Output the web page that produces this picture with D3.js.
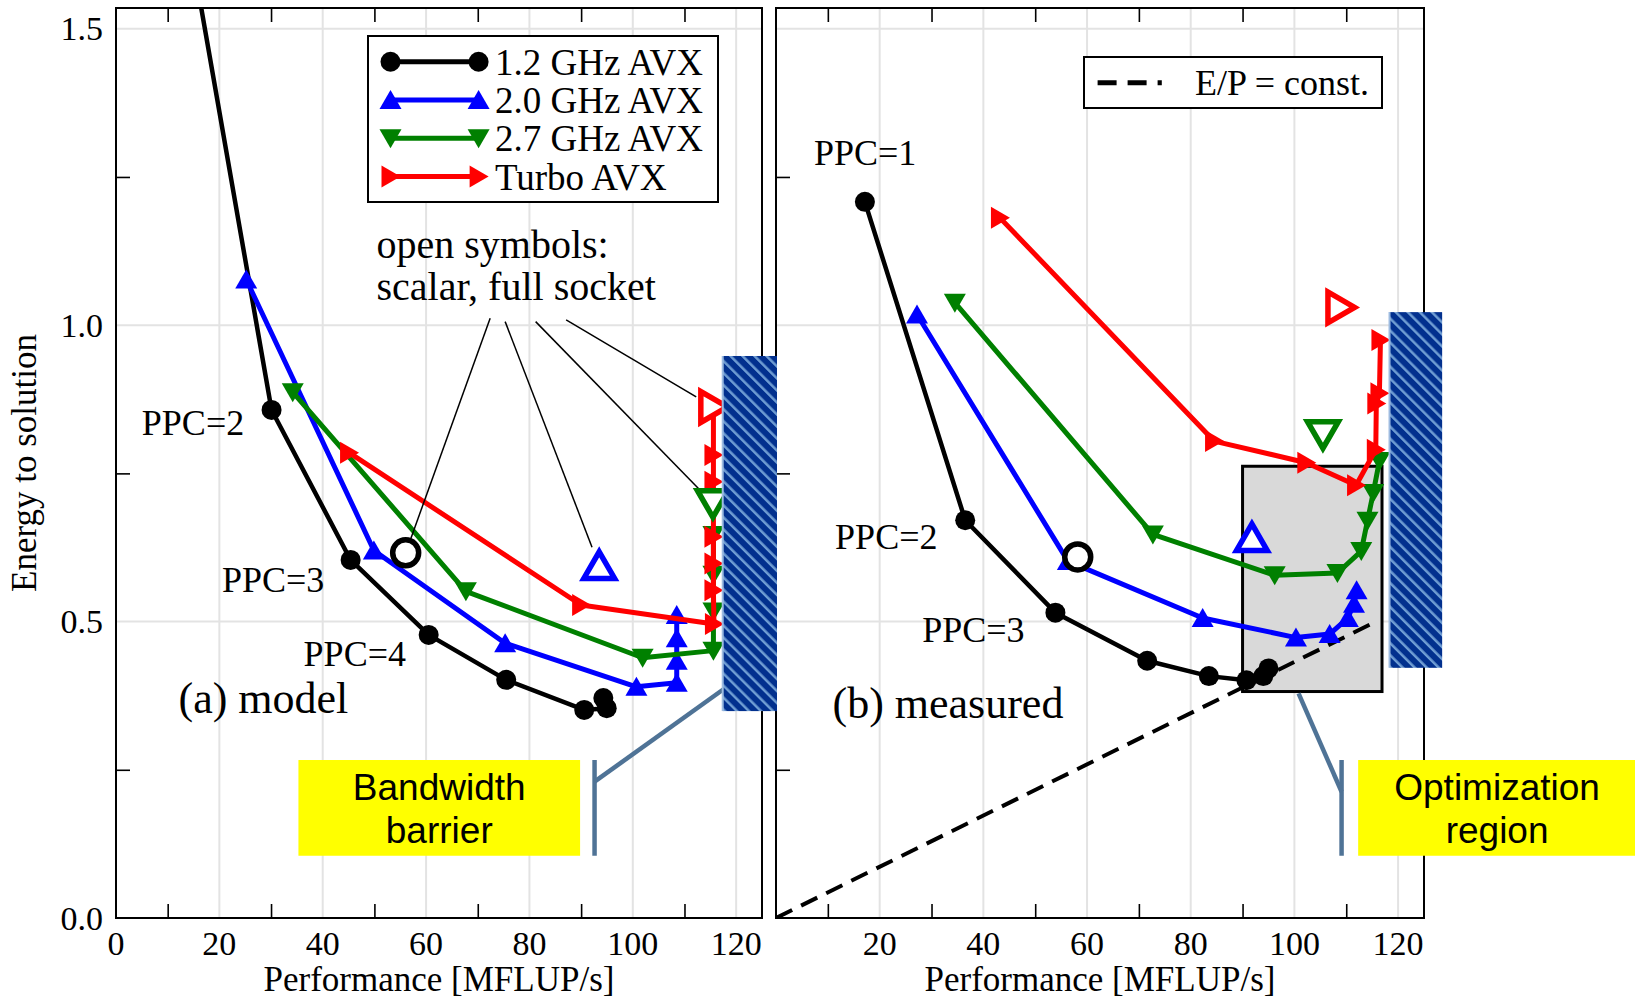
<!DOCTYPE html>
<html>
<head>
<meta charset="utf-8">
<script src="https://cdn.jsdelivr.net/npm/d3@7"></script>
<style>
  body { margin: 0; background: #fff; }
  svg text { font-family: "Liberation Serif", "Times New Roman", serif; fill: #000; }
  svg text.sans { font-family: "Liberation Sans", Arial, sans-serif; }
</style>
</head>
<body>
<svg id="chart" width="1635" height="1001"></svg>
<script>
// ---- data: performance [MFLUP/s] vs energy to solution ----
const seriesNames = ["1.2 GHz AVX", "2.0 GHz AVX", "2.7 GHz AVX", "Turbo AVX"];
const seriesColors = ["#000000", "#0000ff", "#008000", "#ff0000"];
const seriesShapes = ["circle", "up", "down", "right"];

// (a) model
const modelPerf12 = [15.05, 30.1, 45.4, 60.5, 75.5, 90.6, 94.95, 94.3];
const modelEnergy12 = [1.607, 0.857, 0.604, 0.4775, 0.4017, 0.351, 0.354, 0.371];
const modelPerf20 = [25.2, 49.9, 75.3, 100.7, 108.5, 108.5, 108.5, 108.5];
const modelEnergy20 = [1.077, 0.62, 0.4635, 0.39, 0.397, 0.434, 0.472, 0.511];
const modelPerf27 = [34.2, 67.7, 101.9, 115.6, 115.6, 115.6, 115.6];
const modelEnergy27 = [0.887, 0.551, 0.439, 0.451, 0.517, 0.579, 0.646];
const modelPerfTurbo = [45.1, 90.0, 115.7, 115.6, 115.6, 115.6, 115.6, 115.6, 115.6];
const modelEnergyTurbo = [0.785, 0.528, 0.496, 0.553, 0.598, 0.643, 0.736, 0.781, 0.855];
const modelScalarPerf = [56.05, 93.5, 115.5, 115.6];
const modelScalarEnergy = [0.616, 0.594, 0.6995, 0.862];

// (b) measured
const measPerf12 = [17.15, 36.5, 53.9, 71.6, 83.5, 90.75, 94.0, 95.0];
const measEnergy12 = [1.208, 0.671, 0.515, 0.434, 0.408, 0.401, 0.408, 0.421];
const measPerf20 = [27.2, 56.3, 82.3, 100.3, 106.8, 110.3, 111.5, 112.0];
const measEnergy20 = [1.018, 0.602, 0.506, 0.473, 0.479, 0.506, 0.53, 0.553];
const measPerf27 = [34.5, 72.7, 96.2, 108.3, 112.9, 114.1, 115.2, 116.4];
const measEnergy27 = [1.038, 0.647, 0.578, 0.582, 0.619, 0.67, 0.717, 0.771];
const measPerfTurbo = [43.2, 84.5, 102.3, 111.9, 115.7, 115.8, 116.4, 116.6];
const measEnergyTurbo = [1.181, 0.8045, 0.768, 0.73, 0.79, 0.868, 0.885, 0.975];
const measScalarPerf = [58.2, 91.8, 105.5, 108.9];
const measScalarEnergy = [0.609, 0.641, 0.816, 1.03];

const epSlope = 0.00432;       // E/P = const.
const epPerfRange = [0, 116];

const xTicks = [0, 20, 40, 60, 80, 100, 120];
const xMinor = [10, 30, 50, 70, 90, 110];
const yTicks = [0, 0.5, 1.0, 1.5];
const yMinor = [0.25, 0.75, 1.25];

// ---- layout ----
const W = 1635, H = 1001;
const y = d3.scaleLinear().domain([0, 1.535]).range([918, 8]);
const xModel = d3.scaleLinear().domain([0, 125]).range([116, 762]);
const xMeas = d3.scaleLinear().domain([0, 125]).range([776, 1424]);

const svg = d3.select("#chart");
svg.append("rect").attr("width", W).attr("height", H).attr("fill", "#fff");

const defs = svg.append("defs");
const hatch = defs.append("pattern")
    .attr("id", "hatch")
    .attr("patternUnits", "userSpaceOnUse")
    .attr("width", 8.5)
    .attr("height", 8.5)
    .attr("patternTransform", "rotate(-45)");
hatch.append("rect").attr("width", 8.5).attr("height", 8.5).attr("fill", "#02308e");
hatch.append("rect").attr("width", 2.5).attr("height", 8.5).attr("fill", "#6f9dd3");

function marker(sel, shape, s) {
    if (shape === "circle") return sel.append("circle").attr("r", 10 * s);
    const p = {
        up: [[0, -10], [11, 9], [-11, 9]],
        down: [[0, 10], [11, -9], [-11, -9]],
        right: [[10, 0], [-9, -11], [-9, 11]]
    }[shape];
    return sel.append("path")
        .attr("d", "M" + p.map(q => q.map(v => v * s).join(",")).join("L") + "Z");
}

function drawFrame(x, id, labelTicks, withYLabels) {
    const g = svg.append("g");
    const [y0, y1] = y.range();

    defs.append("clipPath").attr("id", id)
        .append("rect")
        .attr("x", x(0)).attr("y", y1)
        .attr("width", x(125) - x(0)).attr("height", y0 - y1);

    // grid
    g.selectAll(".vgrid").data(xTicks.filter(d => d > 0)).join("line")
        .attr("x1", d => x(d)).attr("x2", d => x(d))
        .attr("y1", y0).attr("y2", y1)
        .attr("stroke", "#e3e3e3").attr("stroke-width", 2);
    g.selectAll(".hgrid").data(yTicks.filter(d => d > 0)).join("line")
        .attr("x1", x(0)).attr("x2", x(125))
        .attr("y1", d => y(d)).attr("y2", d => y(d))
        .attr("stroke", "#e3e3e3").attr("stroke-width", 2);

    // tick labels
    g.selectAll(".xl").data(labelTicks).join("text")
        .attr("x", d => x(d)).attr("y", 955)
        .attr("text-anchor", "middle")
        .style("font-size", "34px")
        .text(d => d);
    if (withYLabels) {
        g.selectAll(".yl").data(yTicks).join("text")
            .attr("x", x(0) - 13).attr("y", d => y(d) + 11.5)
            .attr("text-anchor", "end")
            .style("font-size", "34px")
            .text(d => d.toFixed(1));
    }

    g.append("text")
        .attr("x", (x(0) + x(125)) / 2).attr("y", 991)
        .attr("text-anchor", "middle")
        .style("font-size", "35px")
        .text("Performance [MFLUP/s]");
    return g;
}

function drawAxes(x) {
    const g = svg.append("g");
    const [y0, y1] = y.range();
    g.append("g").attr("transform", `translate(0,${y0})`)
        .call(d3.axisBottom(x).tickValues(xMinor).tickSizeInner(-14).tickSizeOuter(0).tickFormat(""));
    g.append("g").attr("transform", `translate(0,${y1})`)
        .call(d3.axisTop(x).tickValues(xMinor).tickSizeInner(-14).tickSizeOuter(0).tickFormat(""));
    g.append("g").attr("transform", `translate(${x(0)},0)`)
        .call(d3.axisLeft(y).tickValues(yMinor).tickSizeInner(-14).tickSizeOuter(0).tickFormat(""));
    g.selectAll(".domain").remove();
    g.selectAll(".tick line").attr("stroke", "#000").attr("stroke-width", 1.6);
    g.append("rect")
        .attr("x", x(0)).attr("y", y1)
        .attr("width", x(125) - x(0)).attr("height", y0 - y1)
        .attr("fill", "none").attr("stroke", "#000").attr("stroke-width", 2);
}

function drawSeries(g, x, perf, energy, i) {
    const pts = d3.zip(perf, energy);
    g.append("path").datum(pts)
        .attr("d", d3.line().x(d => x(d[0])).y(d => y(d[1])))
        .attr("fill", "none")
        .attr("stroke", seriesColors[i])
        .attr("stroke-width", i === 0 ? 4.5 : 5)
        .attr("stroke-linejoin", "round");
    g.selectAll(null).data(pts).join("g")
        .attr("transform", d => `translate(${x(d[0])},${y(d[1])})`)
        .each(function () { marker(d3.select(this), seriesShapes[i], 1).attr("fill", seriesColors[i]); });
}

function drawScalar(g, x, perf, energy) {
    g.selectAll(null).data(d3.zip(perf, energy)).join("g")
        .attr("transform", d => `translate(${x(d[0])},${y(d[1])})`)
        .each(function (d, i) {
            marker(d3.select(this), seriesShapes[i], i === 0 ? 1.3 : 1.4)
                .attr("fill", "#fff")
                .attr("stroke", seriesColors[i])
                .attr("stroke-width", 5.5);
        });
}

function drawHatch(x, x0, x1, e0, e1) {
    svg.append("rect")
        .attr("x", x(x0)).attr("y", y(e1))
        .attr("width", x(x1) - x(x0)).attr("height", y(e0) - y(e1))
        .attr("fill", "url(#hatch)");
    svg.append("line")
        .attr("x1", x(x0)).attr("x2", x(x0))
        .attr("y1", y(e1)).attr("y2", y(e0))
        .attr("stroke", "#9dbbe0").attr("stroke-width", 2);
}

function drawCallout(x, box, barX, diag, lines, center) {
    svg.append("rect")
        .attr("x", x(box[0])).attr("y", y(box[3]))
        .attr("width", x(box[1]) - x(box[0])).attr("height", y(box[2]) - y(box[3]))
        .attr("fill", "#ffff00");
    svg.append("line")
        .attr("x1", x(barX)).attr("x2", x(barX))
        .attr("y1", y(box[2])).attr("y2", y(box[3]))
        .attr("stroke", "#4f7396").attr("stroke-width", 4.5);
    svg.append("line")
        .attr("x1", x(diag[0][0])).attr("y1", y(diag[0][1]))
        .attr("x2", x(diag[1][0])).attr("y2", y(diag[1][1]))
        .attr("stroke", "#4f7396").attr("stroke-width", 4.5);
    svg.selectAll(null).data(lines).join("text")
        .attr("class", "sans")
        .attr("x", x(center))
        .attr("y", (d, i) => y(i === 0 ? 0.199 : 0.126))
        .attr("text-anchor", "middle")
        .style("font-size", "37px")
        .text(d => d);
}

function label(x, px, e, txt, size) {
    svg.append("text")
        .attr("x", x(px)).attr("y", y(e))
        .style("font-size", size + "px")
        .text(txt);
}

// ---- (a) model ----
drawFrame(xModel, "clipA", xTicks, true);
const gA = svg.append("g").attr("clip-path", "url(#clipA)");
[[modelPerf12, modelEnergy12], [modelPerf20, modelEnergy20],
 [modelPerf27, modelEnergy27], [modelPerfTurbo, modelEnergyTurbo]]
    .forEach((s, i) => drawSeries(gA, xModel, s[0], s[1], i));

// pointers from the "open symbols" note
const noteStarts = [[72.4, 1.0116], [75.3, 1.006], [81.2, 1.006], [87.1, 1.009]];
noteStarts.forEach((s, i) => {
    const ax = xModel(s[0]), ay = y(s[1]);
    const bx = xModel(modelScalarPerf[i]), by = y(modelScalarEnergy[i]);
    const len = Math.hypot(bx - ax, by - ay), cut = i === 0 ? 15 : 20;
    svg.append("line")
        .attr("x1", ax).attr("y1", ay)
        .attr("x2", bx - (bx - ax) * cut / len).attr("y2", by - (by - ay) * cut / len)
        .attr("stroke", "#000").attr("stroke-width", 1.5);
});
drawScalar(svg.append("g"), xModel, modelScalarPerf, modelScalarEnergy);
drawAxes(xModel);

label(xModel, 5.0, 0.815, "PPC=2", 36);
label(xModel, 20.5, 0.5504, "PPC=3", 36);
label(xModel, 36.3, 0.4256, "PPC=4", 36);
label(xModel, 12.1, 0.3453, "(a) model", 44);
label(xModel, 50.4, 1.1128, "open symbols:", 40);
label(xModel, 50.4, 1.0425, "scalar, full socket", 40);

drawCallout(xModel, [35.3, 89.8, 0.105, 0.2665], 92.6,
    [[92.6, 0.23], [118.7, 0.393]], ["Bandwidth", "barrier"], 62.55);

// legend
const leg = svg.append("g");
leg.append("rect")
    .attr("x", 368).attr("y", 36).attr("width", 350).attr("height", 166)
    .attr("fill", "#fff").attr("stroke", "#000").attr("stroke-width", 2);
seriesNames.forEach((name, i) => {
    const ly = 61.7 + i * 38.3;
    const row = leg.append("g").attr("transform", `translate(0,${ly})`);
    row.append("line").attr("x1", 390.5).attr("x2", 478.6)
        .attr("stroke", seriesColors[i]).attr("stroke-width", 5);
    [390.5, 478.6].forEach(mx => {
        marker(row.append("g").attr("transform", `translate(${mx},0)`), seriesShapes[i], 1)
            .attr("fill", seriesColors[i]);
    });
    row.append("text").attr("x", 495).attr("y", 13)
        .style("font-size", "37px").text(name);
});

// ---- (b) measured ----
drawFrame(xMeas, "clipB", xTicks.filter(d => d > 0), false);
const gB = svg.append("g").attr("clip-path", "url(#clipB)");
gB.append("rect")
    .attr("x", xMeas(90.0)).attr("y", y(0.762))
    .attr("width", xMeas(116.9) - xMeas(90.0)).attr("height", y(0.382) - y(0.762))
    .attr("fill", "#d9d9d9").attr("stroke", "#000").attr("stroke-width", 3);
gB.append("path")
    .datum(epPerfRange.map(p => [p, p * epSlope]))
    .attr("d", d3.line().x(d => xMeas(d[0])).y(d => y(d[1])))
    .attr("stroke", "#000").attr("stroke-width", 4)
    .attr("stroke-dasharray", "18,10");
[[measPerf12, measEnergy12], [measPerf20, measEnergy20],
 [measPerf27, measEnergy27], [measPerfTurbo, measEnergyTurbo]]
    .forEach((s, i) => drawSeries(gB, xMeas, s[0], s[1], i));
drawScalar(svg.append("g"), xMeas, measScalarPerf, measScalarEnergy);
drawAxes(xMeas);

label(xMeas, 7.33, 1.2703, "PPC=1", 36);
label(xMeas, 11.4, 0.6224, "PPC=2", 36);
label(xMeas, 28.2, 0.466, "PPC=3", 36);
label(xMeas, 10.9, 0.3374, "(b) measured", 44);

drawCallout(xMeas, [112.3, 170, 0.105, 0.2665], 109.1,
    [[109.1, 0.213], [100.8, 0.379]], ["Optimization", "region"], 139.1);

// E/P legend
const leg2 = svg.append("g");
leg2.append("rect")
    .attr("x", 1084).attr("y", 57).attr("width", 298).attr("height", 51)
    .attr("fill", "#fff").attr("stroke", "#000").attr("stroke-width", 2);
leg2.append("line")
    .attr("x1", 1097.6).attr("x2", 1161.8).attr("y1", 82.7).attr("y2", 82.7)
    .attr("stroke", "#000").attr("stroke-width", 5).attr("stroke-dasharray", "19,11");
leg2.append("text").attr("x", 1195).attr("y", 95)
    .style("font-size", "36px").text("E/P = const.");

// bandwidth barriers sit on top of the frames
drawHatch(xModel, 117.4, 127.9, 0.349, 0.948);
drawHatch(xMeas, 118.35, 128.5, 0.422, 1.022);

// y axis title
svg.append("text")
    .attr("transform", `translate(36,${(y(0) + y(1.535)) / 2}) rotate(-90)`)
    .attr("text-anchor", "middle")
    .style("font-size", "35px")
    .text("Energy to solution");
</script>
</body>
</html>
